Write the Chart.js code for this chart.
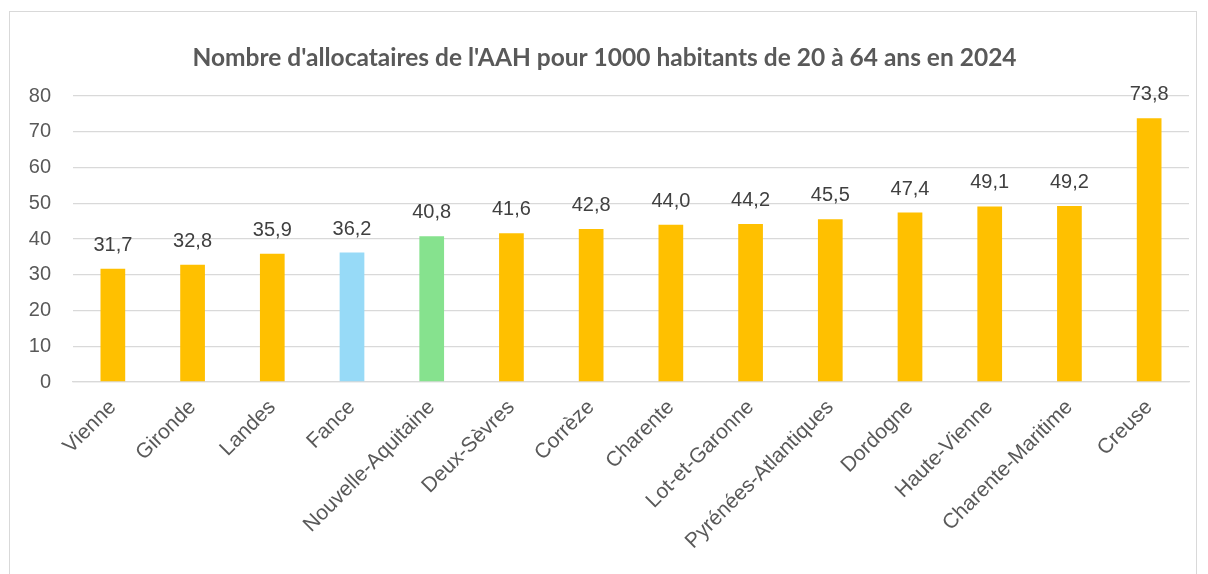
<!DOCTYPE html>
<html>
<head>
<meta charset="utf-8">
<script src="https://cdn.jsdelivr.net/npm/chart.js@4"></script>
<style>
  html, body { margin: 0; padding: 0; background: #fff; }
  #wrap { position: relative; width: 1208px; height: 574px; overflow: hidden; }
  #frame { position: absolute; left: 9px; top: 11px; width: 1188px; height: 620px; border: 1.3px solid #d9d9d9; box-sizing: border-box; }
  canvas { position: absolute; left: 0; top: 0; }
</style>
</head>
<body>
<div id="wrap">
  <div id="frame"></div>
  <canvas id="chart" width="1208" height="574"></canvas>
</div>
<script>
// Nombre d'allocataires de l'AAH pour 1000 habitants de 20 à 64 ans (2024)
const categories = ['Vienne', 'Gironde', 'Landes', 'Fance', 'Nouvelle-Aquitaine', 'Deux-Sèvres', 'Corrèze',
  'Charente', 'Lot-et-Garonne', 'Pyrénées-Atlantiques', 'Dordogne', 'Haute-Vienne', 'Charente-Maritime', 'Creuse'];
const values = [31.7, 32.8, 35.9, 36.2, 40.8, 41.6, 42.8, 44.0, 44.2, 45.5, 47.4, 49.1, 49.2, 73.8];
const barColors = ['#FFC000', '#FFC000', '#FFC000', '#97DAF7', '#86E28E', '#FFC000', '#FFC000',
  '#FFC000', '#FFC000', '#FFC000', '#FFC000', '#FFC000', '#FFC000', '#FFC000'];
const yTicks = [0, 10, 20, 30, 40, 50, 60, 70, 80];

// value labels above each bar (comma decimal)
const valueLabels = {
  id: 'valueLabels',
  afterDatasetsDraw(chart) {
    const ctx = chart.ctx;
    const meta = chart.getDatasetMeta(0);
    ctx.save();
    ctx.font = '20px "Liberation Sans", Arial, sans-serif';
    ctx.fillStyle = '#404040';
    ctx.textAlign = 'center';
    ctx.textBaseline = 'alphabetic';
    meta.data.forEach((bar, i) => {
      const txt = values[i].toFixed(1).replace('.', ',');
      ctx.fillText(txt, bar.x, bar.y - 18);
    });
    ctx.restore();
  }
};

new Chart(document.getElementById('chart'), {
  type: 'bar',
  data: {
    labels: categories,
    datasets: [{
      data: values,
      backgroundColor: barColors,
      borderWidth: 0,
      categoryPercentage: 1,
      barPercentage: 0.31
    }]
  },
  options: {
    responsive: false,
    animation: false,
    layout: { padding: { left: 20, right: 19, top: 0, bottom: 0 } },
    plugins: {
      legend: { display: false },
      tooltip: { enabled: false },
      title: {
        display: true,
        text: "Nombre d'allocataires de l'AAH pour 1000 habitants de 20 à 64 ans en 2024",
        color: '#595959',
        font: { family: 'Lato, "Liberation Sans", sans-serif', size: 24.5, weight: 'bold' },
        padding: { top: 43, bottom: 23.6 }
      }
    },
    scales: {
      x: {
        grid: { display: false },
        border: { color: '#d9d9d9', width: 1.3 },
        ticks: {
          color: '#595959',
          font: { family: '"Liberation Sans", Arial, sans-serif', size: 21 },
          minRotation: 45,
          maxRotation: 45,
          autoSkip: false,
          padding: 5
        },
        afterFit(scale) { scale.height = 192; }
      },
      y: {
        min: 0,
        max: 80,
        afterBuildTicks(scale) { scale.ticks = yTicks.map(v => ({ value: v })); },
        grid: { color: '#d9d9d9', lineWidth: 1.3, drawTicks: false },
        border: { display: false },
        ticks: {
          color: '#595959',
          font: { family: '"Liberation Sans", Arial, sans-serif', size: 20 },
          padding: 22
        },
        afterFit(scale) { scale.width = 53; }
      }
    }
  },
  plugins: [valueLabels]
});
</script>
</body>
</html>
